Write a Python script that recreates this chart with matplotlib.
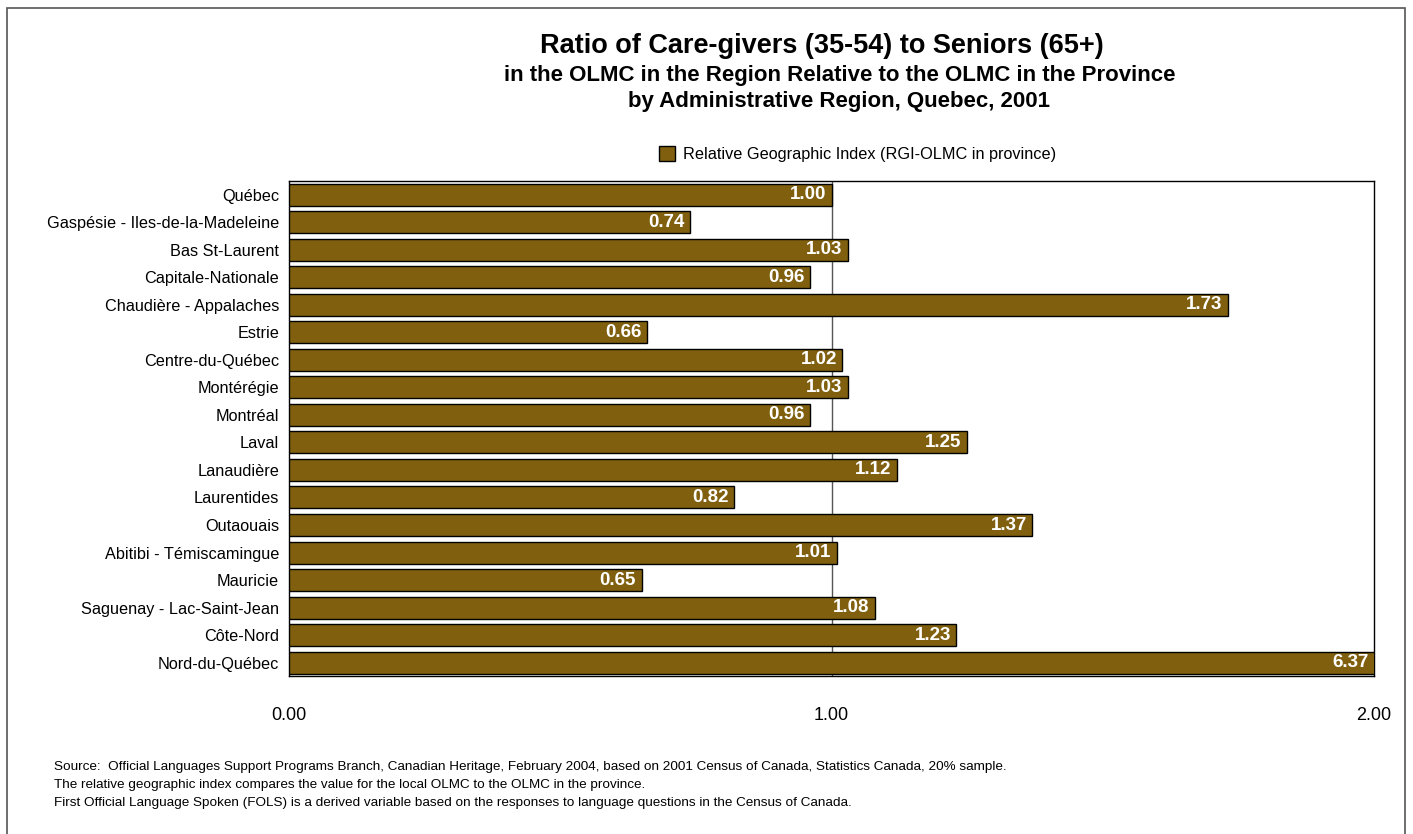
import matplotlib.pyplot as plt
from matplotlib.patches import Rectangle

plt.rcParams['font.family'] = ['Liberation Sans', 'DejaVu Sans']

regions = ["Québec", "Gaspésie - Iles-de-la-Madeleine", "Bas St-Laurent",
           "Capitale-Nationale", "Chaudière - Appalaches", "Estrie",
           "Centre-du-Québec", "Montérégie", "Montréal", "Laval",
           "Lanaudière", "Laurentides", "Outaouais", "Abitibi - Témiscamingue",
           "Mauricie", "Saguenay - Lac-Saint-Jean", "Côte-Nord", "Nord-du-Québec"]
rgi = [1.00, 0.74, 1.03, 0.96, 1.73, 0.66, 1.02, 1.03, 0.96, 1.25,
       1.12, 0.82, 1.37, 1.01, 0.65, 1.08, 1.23, 6.37]
xticks = [0.0, 1.0, 2.0]

bar_color = "#80600F"
xmax = 2.0

fig = plt.figure(figsize=(14.13, 8.34), dpi=100)
fig.patch.set_facecolor("white")
# outer frame
fig.patches.append(Rectangle((0.005, -0.01), 0.989, 1.0, transform=fig.transFigure,
                             fill=False, edgecolor="#555555", linewidth=1.2))

ax = fig.add_axes([0.2045, 0.189, 0.768, 0.594])
ypos = list(range(len(regions)))
ax.barh(ypos, rgi, height=0.8, color=bar_color, edgecolor="black",
        linewidth=1, zorder=3, label="Relative Geographic Index (RGI-OLMC in province)")
ax.set_xlim(0, xmax)
ax.set_ylim(len(regions) - 0.5, -0.5)
ax.axvline(1.0, color="#555555", linewidth=1, zorder=1)

for y, v in zip(ypos, rgi):
    ax.annotate(f"{v:.2f}", xy=(min(v, xmax), y), xytext=(-4, 0),
                textcoords="offset points", ha="right", va="center",
                color="white", fontsize=13.5, fontweight="bold", zorder=4)

ax.set_yticks(ypos)
ax.set_yticklabels(regions, fontsize=11.7)
ax.set_xticks(xticks)
ax.set_xticklabels([f"{t:.2f}" for t in xticks], fontsize=13)
ax.tick_params(axis="y", length=0, pad=7)
ax.tick_params(axis="x", length=0, pad=22)
for s in ax.spines.values():
    s.set_color("black")
    s.set_linewidth(1)

fig.legend(loc="center", bbox_to_anchor=(0.607, 0.815), frameon=False,
           fontsize=11.7, handlelength=1.0, handleheight=1.0, handletextpad=0.5)

fig.text(0.582, 1 - 46 / 834, "Ratio of Care-givers (35-54) to Seniors (65+)",
         ha="center", va="center", fontsize=19.5, fontweight="bold")
fig.text(0.594, 1 - 75 / 834, "in the OLMC in the Region Relative to the OLMC in the Province",
         ha="center", va="center", fontsize=16, fontweight="bold")
fig.text(0.594, 1 - 101 / 834, "by Administrative Region, Quebec, 2001",
         ha="center", va="center", fontsize=16, fontweight="bold")

notes = ["Source:  Official Languages Support Programs Branch, Canadian Heritage, February 2004, based on 2001 Census of Canada, Statistics Canada, 20% sample.",
         "The relative geographic index compares the value for the local OLMC to the OLMC in the province.",
         "First Official Language Spoken (FOLS) is a derived variable based on the responses to language questions in the Census of Canada."]
for i, n in enumerate(notes):
    fig.text(0.038, 1 - (767 + 18 * i) / 834, n, ha="left", va="center", fontsize=9.7)

fig.savefig("out.png", dpi=100)
